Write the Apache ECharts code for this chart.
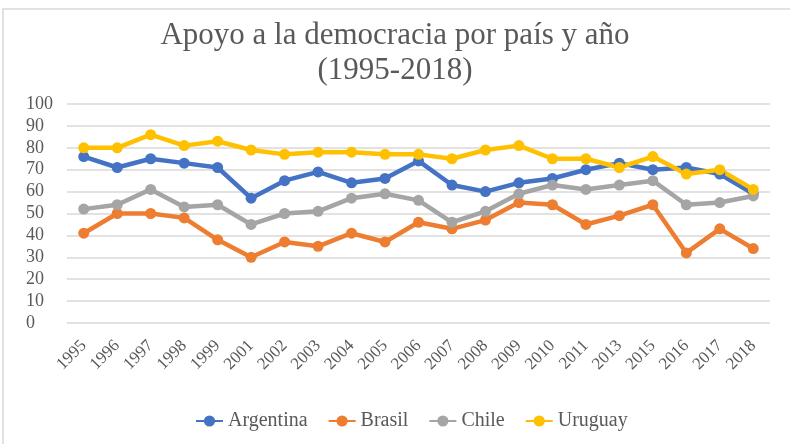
<!DOCTYPE html>
<html>
<head>
<meta charset="utf-8">
<script src="https://cdn.jsdelivr.net/npm/echarts@6/dist/echarts.min.js"></script>
<style>
  html, body { margin: 0; padding: 0; background: #fff; }
  #chart { width: 790px; height: 444px; }
</style>
</head>
<body>
<div id="chart"></div>
<script>
// years on the x axis (2000, 2012, 2014 are missing in the source)
const years = ["1995", "1996", "1997", "1998", "1999", "2001", "2002", "2003", "2004", "2005", "2006",
  "2007", "2008", "2009", "2010", "2011", "2013", "2015", "2016", "2017", "2018"];

const argentina = [76, 71, 75, 73, 71, 57, 65, 69, 64, 66, 74, 63, 60, 64, 66, 70, 73, 70, 71, 68, 59];
const brasil    = [41, 50, 50, 48, 38, 30, 37, 35, 41, 37, 46, 43, 47, 55, 54, 45, 49, 54, 32, 43, 34];
const chile     = [52, 54, 61, 53, 54, 45, 50, 51, 57, 59, 56, 46, 51, 59, 63, 61, 63, 65, 54, 55, 58];
const uruguay   = [80, 80, 86, 81, 83, 79, 77, 78, 78, 77, 77, 75, 79, 81, 75, 75, 71, 76, 68, 70, 61];

const yTicks = [0, 10, 20, 30, 40, 50, 60, 70, 80, 90, 100];

const serif = "'Liberation Serif', 'DejaVu Serif', serif";
const textGray = "#595959";

const chart = echarts.init(document.getElementById("chart"));

const mkSeries = (name, data, color) => ({
  name: name,
  type: "line",
  data: data,
  symbol: "circle",
  symbolSize: 11,
  lineStyle: { width: 4.5, color: color },
  itemStyle: { color: color },
  emphasis: { disabled: true },
  animation: false
});

chart.setOption({
  backgroundColor: "#fff",
  // thin chart-area frame, visible on top and left in the source
  graphic: [{
    type: "rect",
    shape: { x: 3, y: 9, width: 820, height: 480 },
    style: { fill: null, stroke: "#d9d9d9", lineWidth: 1.5 },
    silent: true
  }],
  title: {
    text: "Apoyo a la democracia por país y año\n(1995-2018)",
    left: "center",
    top: 13,
    textStyle: {
      fontFamily: serif,
      fontWeight: "normal",
      fontSize: 31,
      lineHeight: 35,
      color: textGray
    }
  },
  legend: {
    top: 406,
    left: 190,
    itemWidth: 27,
    itemHeight: 14,
    itemGap: 20,
    textStyle: { fontFamily: serif, fontSize: 20, color: textGray },
    data: ["Argentina", "Brasil", "Chile", "Uruguay"]
  },
  grid: { left: 67, right: 20, top: 104, bottom: 121 },
  xAxis: {
    type: "category",
    data: years,
    boundaryGap: true,
    axisLine: { show: false },
    axisTick: { show: false },
    axisLabel: {
      rotate: 45,
      interval: 0,
      margin: 20,
      fontFamily: serif,
      fontSize: 17,
      color: textGray
    }
  },
  yAxis: {
    type: "value",
    min: yTicks[0],
    max: yTicks[yTicks.length - 1],
    interval: 10,
    axisLine: { show: false },
    axisTick: { show: false },
    splitLine: { lineStyle: { color: "#d9d9d9", width: 1.5 } },
    axisLabel: {
      align: "left",
      margin: 41,
      fontFamily: serif,
      fontSize: 18,
      color: textGray
    }
  },
  series: [
    mkSeries("Argentina", argentina, "#4472C4"),
    mkSeries("Brasil", brasil, "#ED7D31"),
    mkSeries("Chile", chile, "#A5A5A5"),
    mkSeries("Uruguay", uruguay, "#FFC000")
  ]
});
</script>
</body>
</html>
